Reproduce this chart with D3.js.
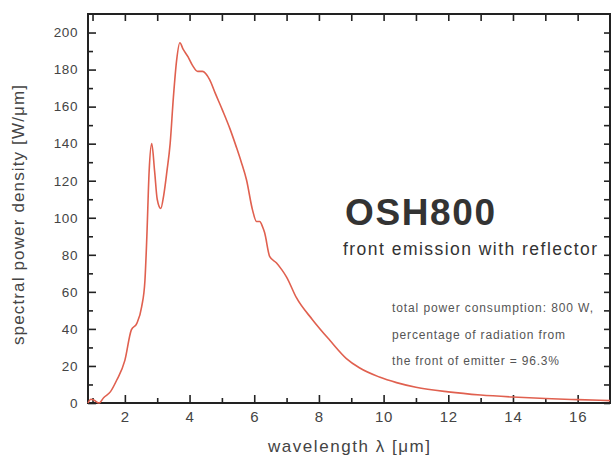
<!DOCTYPE html>
<html><head><meta charset="utf-8">
<script src="https://cdn.jsdelivr.net/npm/d3@7"></script>
<style>
html,body{margin:0;padding:0;background:#fff;}
svg{display:block;font-family:Arial,"Liberation Sans",sans-serif;}
</style></head>
<body><svg id="chart" width="611" height="457"></svg>
<script>
const wavelength = [0.86,0.95,1.05,1.2,1.35,1.55,1.75,2.0,2.2,2.37,2.52,2.62,2.68,2.75,2.83,2.92,3.0,3.11,3.2,3.3,3.4,3.5,3.6,3.7,3.8,3.95,4.1,4.25,4.4,4.62,4.8,5.02,5.25,5.45,5.6,5.76,5.95,6.07,6.17,6.26,6.32,6.48,6.69,6.85,7.0,7.3,7.8,8.33,8.85,9.25,9.87,10.4,11,12,13,14,15,16,17];
const power = [0,2,1.5,0,3,6,12.4,23,39.5,43,52,66,90,125,140,125,110,105,112,125,140,165,185,194.5,191,187,182,179,179,174.6,167,158,148,138,130,120.5,104,98,98,95,92,79,75.6,72,68,57,45,34,24,19,14,11,8.5,6,4.3,3.2,2.4,1.8,1.3];
const xMajor = [2,4,6,8,10,12,14,16];
const xMinor = [1,3,5,7,9,11,13,15,17];
const yMajor = [0,20,40,60,80,100,120,140,160,180,200];
const yMinor = [10,30,50,70,90,110,130,150,170,190];
const title = "OSH800";
const subtitle = "front emission with reflector";
const notes = ["total power consumption: 800 W,","percentage of radiation from","the front of emitter = 96.3%"];

const svg = d3.select("#chart");
const L=88, R=610, T=14, B=403;
const x = d3.scaleLinear().domain([0.86,17]).range([L,R]);
const y = d3.scaleLinear().domain([0,210]).range([B,T]);

const axCol = "#222";
function styleAxis(g){ g.select(".domain").remove(); g.selectAll("line").attr("stroke",axCol).attr("stroke-width",1.6); }

// bottom
svg.append("g").attr("transform",`translate(0,${B})`)
  .call(d3.axisBottom(x).tickValues(xMajor).tickSizeInner(-8).tickSizeOuter(0).tickPadding(8).tickFormat(d3.format("d")))
  .call(styleAxis)
  .call(g=>g.selectAll("text").attr("font-size",15).attr("fill","#444").attr("letter-spacing",0.8).attr("font-family","Arial, 'Liberation Sans', sans-serif"));
svg.append("g").attr("transform",`translate(0,${B})`)
  .call(d3.axisBottom(x).tickValues(xMinor).tickSizeInner(-5).tickSizeOuter(0).tickFormat(""))
  .call(styleAxis);
// top
svg.append("g").attr("transform",`translate(0,${T})`)
  .call(d3.axisTop(x).tickValues(xMajor.concat(xMinor)).tickSizeInner(-7).tickSizeOuter(0).tickFormat(""))
  .call(styleAxis);
// left
svg.append("g").attr("transform",`translate(${L},0)`)
  .call(d3.axisLeft(y).tickValues(yMajor).tickSizeInner(-8).tickSizeOuter(0).tickPadding(10).tickFormat(d3.format("d")))
  .call(styleAxis)
  .call(g=>g.selectAll("text").attr("font-size",13.5).attr("fill","#444").attr("letter-spacing",0.6).attr("font-family","Arial, 'Liberation Sans', sans-serif"));
svg.append("g").attr("transform",`translate(${L},0)`)
  .call(d3.axisLeft(y).tickValues(yMinor).tickSizeInner(-5).tickSizeOuter(0).tickFormat(""))
  .call(styleAxis);
// right
svg.append("g").attr("transform",`translate(${R},0)`)
  .call(d3.axisRight(y).tickValues(yMajor.concat(yMinor)).tickSizeInner(-6).tickSizeOuter(0).tickFormat(""))
  .call(styleAxis);

// frame lines
svg.append("path").attr("d",`M${L},${T}H${R}V${B}H${L}Z`).attr("fill","none").attr("stroke",axCol).attr("stroke-width",2);

// curve
const pts = wavelength.map((w,i)=>[w,power[i]]);
svg.append("path").datum(pts)
  .attr("d", d3.line().x(d=>x(d[0])).y(d=>y(d[1])).curve(d3.curveMonotoneX))
  .attr("fill","none").attr("stroke","#e0604f").attr("stroke-width",1.6);

// axis titles
svg.append("text").attr("x",268).attr("y",452)
  .attr("font-size",17).attr("fill","#444").attr("textLength",162).attr("lengthAdjust","spacing").text("wavelength λ [μm]");
svg.append("text").attr("transform","translate(24,345) rotate(-90)")
  .attr("font-size",17).attr("fill","#444").attr("textLength",260).attr("lengthAdjust","spacing").text("spectral power density [W/μm]");

// annotations
svg.append("text").attr("x",345).attr("y",225).attr("font-size",37).attr("font-weight","bold").attr("fill","#333")
  .attr("textLength",150).attr("lengthAdjust","spacing").text(title);
svg.append("text").attr("x",343).attr("y",255).attr("font-size",17.5).attr("fill","#333")
  .attr("textLength",254).attr("lengthAdjust","spacing").text(subtitle);
const noteLen = [201,173,167];
notes.forEach((t,i)=>{
  svg.append("text").attr("x",392).attr("y",312+i*26.5).attr("font-size",12).attr("fill","#555")
    .attr("textLength",noteLen[i]).attr("lengthAdjust","spacing").text(t);
});
</script></body></html>
